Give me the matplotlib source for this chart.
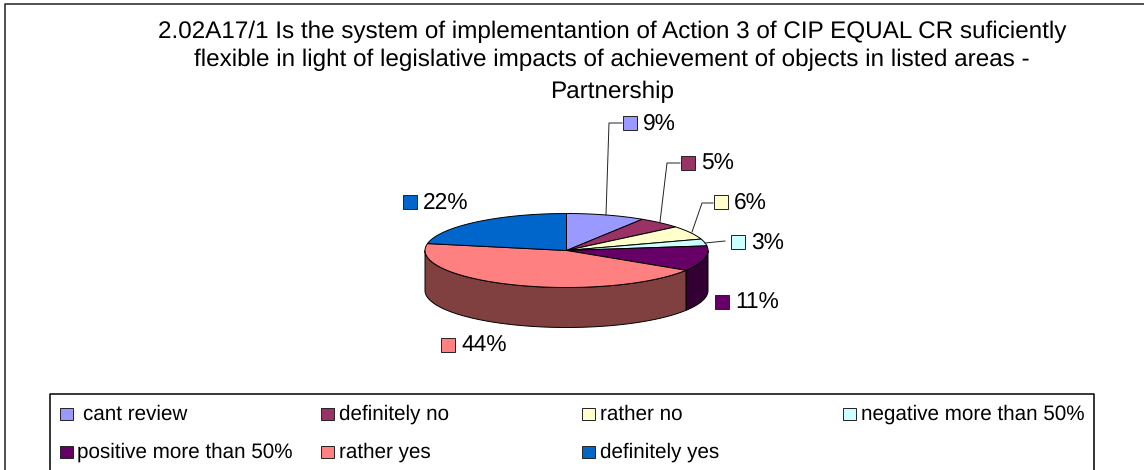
import numpy as np
import matplotlib
matplotlib.use("Agg")
import matplotlib.pyplot as plt
from matplotlib.patches import Polygon, Rectangle

categories = ["cant review", "definitely no", "rather no", "negative more than 50%",
              "positive more than 50%", "rather yes", "definitely yes"]
values = [9, 5, 6, 3, 11, 44, 22]
colors = ["#9999FF", "#993366", "#FFFFCC", "#CCFFFF", "#660066", "#FF8080", "#0066CC"]
side_colors = ["#4C4C80", "#4C1933", "#808066", "#668080", "#330033", "#804040", "#003366"]
title_lines = ["2.02A17/1 Is the system of implementantion of Action 3 of CIP EQUAL CR suficiently",
               "flexible in light of legislative impacts of achievement of objects in listed areas -",
               "Partnership"]
label_boxes = [(623, 116), (681, 156), (714, 195), (731, 235), (715, 295), (441, 338), (403, 195)]
label_leaders = [[(606, 215), (609, 123), (622, 123)],
                 [(660, 222), (667, 163), (680, 163)],
                 [(692, 232), (702, 203), (713, 203)],
                 [(705, 243), (725, 241)], None, None, None]

plt.rcParams["font.family"] = ["Liberation Sans", "DejaVu Sans"]
plt.rcParams["text.hinting"] = "no_hinting"
plt.rcParams["text.hinting_factor"] = 8
W, H = 1144, 470
fig = plt.figure(figsize=(W / 100, H / 100), dpi=100)
ax = fig.add_axes([0, 0, 1, 1])
ax.set_xlim(0, W); ax.set_ylim(H, 0); ax.axis("off")

cx, cy, rx, ry, depth = 566.5, 250.5, 141.5, 37, 40
ink = "#000000"

# chart frame
ax.plot([4.5, 4.5, W], [H, 3.5, 3.5], color="#222222", lw=1.1)

for y, line in zip([32, 60, 92], title_lines):
    ax.text(612, y, line, ha="center", va="center", fontsize=17.45, color=ink)

def pt(th):
    return cx + rx * np.sin(th), cy - ry * np.cos(th)

edges = np.cumsum([0] + values) / sum(values) * 2 * np.pi

# side walls
for i in range(len(values)):
    a, b = max(edges[i], np.pi / 2), min(edges[i + 1], 3 * np.pi / 2)
    if b <= a:
        continue
    th = np.linspace(a, b, 80)
    x, y = pt(th)
    xy = np.r_[np.c_[x, y], np.c_[x[::-1], y[::-1] + depth]]
    ax.add_patch(Polygon(xy, closed=True, fc=side_colors[i], ec=ink, lw=0.7, zorder=2))

# top faces
for i in range(len(values)):
    th = np.linspace(edges[i], edges[i + 1], 120)
    x, y = pt(th)
    xy = np.r_[[[cx, cy]], np.c_[x, y]]
    ax.add_patch(Polygon(xy, closed=True, fc=colors[i], ec=ink, lw=0.7, zorder=3))

# data labels
for i, (bx, by) in enumerate(label_boxes):
    ax.add_patch(Rectangle((bx, by), 14, 14, fc=colors[i], ec="#222222", lw=0.7, zorder=4))
    ax.text(bx + 20, by + 8, f"{values[i]}%", ha="left", va="center", fontsize=16.4, color=ink, zorder=4)
    if label_leaders[i]:
        lx, ly = zip(*label_leaders[i])
        ax.plot(lx, ly, color="#222222", lw=0.7, zorder=4)

# legend
ax.plot([49.5, 49.5, 1093.5, 1093.5], [H, 393.5, 393.5, H], color=ink, lw=1.1)
leg_x = [59.5, 320.5, 581.5, 842.5]
leg_text_x = [83, 339, 600, 861]
leg_x2 = [59.5, 320.5, 581.5]
leg_text_x2 = [77, 339, 600]
for i in range(4):
    ax.add_patch(Rectangle((leg_x[i], 408), 13, 12, fc=colors[i], ec="#222222", lw=0.7))
    ax.text(leg_text_x[i], 414.5, categories[i], va="center", fontsize=14.85, color=ink)
for j in range(3):
    i = j + 4
    ax.add_patch(Rectangle((leg_x2[j], 446), 13, 12, fc=colors[i], ec="#222222", lw=0.7))
    ax.text(leg_text_x2[j], 452.5, categories[i], va="center", fontsize=14.85, color=ink)

fig.savefig("out.png", dpi=100)
